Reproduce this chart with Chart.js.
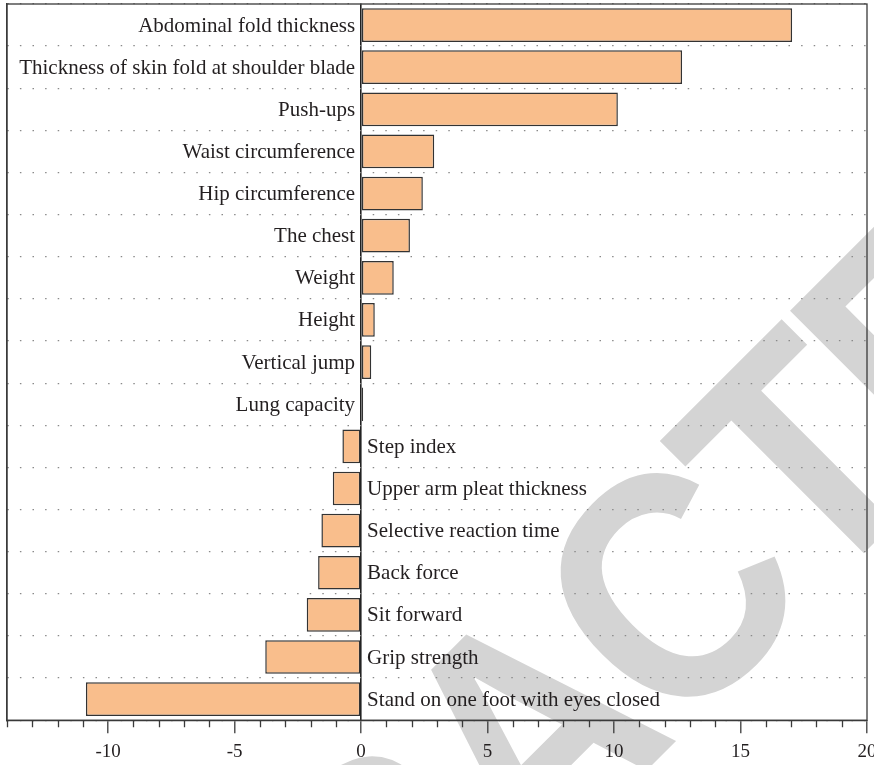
<!DOCTYPE html>
<html>
<head>
<meta charset="utf-8">
<script src="https://cdn.jsdelivr.net/npm/chart.js@4.4.1/dist/chart.umd.min.js"></script>
<style>
  html, body { margin: 0; padding: 0; background: #fff; overflow: hidden; }
  #wrap { width: 874px; height: 765px; overflow: hidden; position: relative; }
  #chart { display: block; background: #fff; }
</style>
</head>
<body>
<div id="wrap"><canvas id="chart" width="884" height="770"></canvas></div>
<script>
// Indicator loadings, sorted from largest to smallest
const indicators = [
    'Abdominal fold thickness',
    'Thickness of skin fold at shoulder blade',
    'Push-ups',
    'Waist circumference',
    'Hip circumference',
    'The chest',
    'Weight',
    'Height',
    'Vertical jump',
    'Lung capacity',
    'Step index',
    'Upper arm pleat thickness',
    'Selective reaction time',
    'Back force',
    'Sit forward',
    'Grip strength',
    'Stand on one foot with eyes closed'
];
const loadings = [17.04, 12.69, 10.15, 2.89, 2.44, 1.93, 1.29, 0.54, 0.40, 0.08,
    -0.74, -1.12, -1.57, -1.70, -2.15, -3.79, -10.88];
const axisMin = -14;
const axisMax = 20;
const majorStep = 5;

const SERIF = '"Liberation Serif", "DejaVu Serif", serif';
const INK = '#231f20';

// big grey stamp across the sheet, drawn first so everything sits on top
const stampPlugin = {
    id: 'stamp',
    beforeDraw(chart) {
        const ctx = chart.ctx;
        ctx.save();
        ctx.translate(603, 814);
        ctx.rotate(-Math.PI / 4);
        ctx.scale(0.9, 1);
        ctx.fillStyle = '#d4d4d4';
        ctx.font = 'bold 325px "Liberation Sans", Arial, sans-serif';
        if ('letterSpacing' in ctx) ctx.letterSpacing = '-12px';
        ctx.textAlign = 'center';
        ctx.textBaseline = 'alphabetic';
        ctx.fillText('RETRACTED', 0, 0);
        ctx.restore();
    }
};

// names beside the zero line, on the side opposite to the bar
const barNamePlugin = {
    id: 'barNames',
    afterDatasetsDraw(chart) {
        const ctx = chart.ctx;
        const x = chart.scales.x;
        const y = chart.scales.y;
        const x0 = x.getPixelForValue(0);
        ctx.save();
        ctx.font = '21px ' + SERIF;
        ctx.fillStyle = INK;
        ctx.textBaseline = 'middle';
        indicators.forEach((name, i) => {
            const py = y.getPixelForValue(i) + 1;
            if (loadings[i] >= 0) {
                ctx.textAlign = 'right';
                ctx.fillText(name, x0 - 6, py);
            } else {
                ctx.textAlign = 'left';
                ctx.fillText(name, x0 + 6, py);
            }
        });
        ctx.restore();
    }
};

// box round the plot and the short minor ticks under the axis
const framePlugin = {
    id: 'frame',
    afterDraw(chart) {
        const ctx = chart.ctx;
        const a = chart.chartArea;
        const x = chart.scales.x;
        ctx.save();
        ctx.strokeStyle = '#3a3a3a';
        ctx.lineWidth = 1.3;
        ctx.strokeRect(a.left, a.top, a.right - a.left, a.bottom - a.top);
        ctx.beginPath();
        x.ticks.forEach(t => {
            if (t.value % majorStep !== 0) {
                const px = Math.round(x.getPixelForValue(t.value)) + 0.5;
                ctx.moveTo(px, a.bottom);
                ctx.lineTo(px, a.bottom + 7);
            }
        });
        ctx.stroke();
        ctx.restore();
    }
};

new Chart(document.getElementById('chart'), {
    type: 'bar',
    data: {
        labels: indicators,
        datasets: [{
            data: loadings,
            backgroundColor: '#f9be8c',
            borderColor: '#333',
            borderWidth: 1.5,
            borderSkipped: false,
            barPercentage: 0.8,
            categoryPercentage: 1.0
        }]
    },
    options: {
        indexAxis: 'y',
        responsive: false,
        animation: false,
        layout: { padding: { left: 7, right: 17, top: 4, bottom: 0 } },
        plugins: {
            legend: { display: false },
            tooltip: { enabled: false }
        },
        scales: {
            x: {
                min: axisMin,
                max: axisMax,
                grid: {
                    color: c => (c.tick && c.tick.value === 0) ? '#222' : 'rgba(0,0,0,0)',
                    lineWidth: 1.6,
                    tickLength: 13,
                    tickColor: c => (c.tick && c.tick.value % majorStep === 0) ? '#3a3a3a' : 'rgba(0,0,0,0)',
                    tickWidth: 1.3
                },
                border: { display: true, color: '#3a3a3a', width: 1.3 },
                ticks: {
                    stepSize: 1,
                    autoSkip: false,
                    maxRotation: 0,
                    padding: 7,
                    color: INK,
                    font: { family: SERIF, size: 19 },
                    callback: v => (v % majorStep === 0) ? String(v) : ''
                }
            },
            y: {
                grid: {
                    color: '#8a8a8a',
                    lineWidth: 1.3,
                    drawTicks: false
                },
                border: { display: true, color: '#3a3a3a', width: 1.3, dash: [1.5, 11.1] },
                ticks: { display: false }
            }
        }
    },
    plugins: [stampPlugin, barNamePlugin, framePlugin]
});
</script>
</body>
</html>
